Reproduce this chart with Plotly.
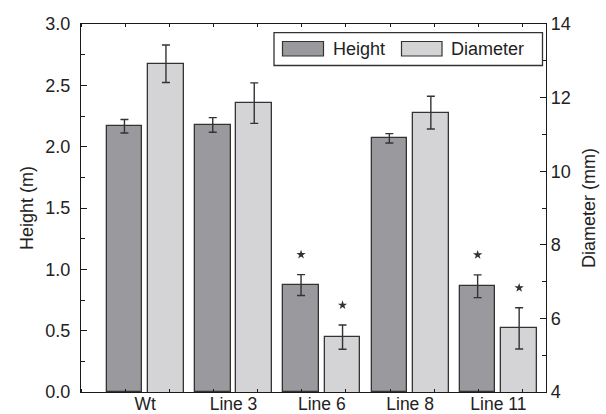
import plotly.graph_objects as go

categories = ["Wt", "Line 3", "Line 6", "Line 8", "Line 11"]
height_m = [2.166, 2.177, 0.872, 2.068, 0.862]
height_err = [0.055, 0.06, 0.085, 0.038, 0.093]
diameter_mm = [12.92, 11.85, 5.49, 11.59, 5.73]
diameter_err = [0.51, 0.55, 0.33, 0.445, 0.56]
significant = [False, False, True, False, True]

FONT = "Liberation Sans, Arial, sans-serif"
FS = 18
DARK = "#9a9a9e"
LIGHT = "#d4d4d6"
EDGE = "#333333"
AX = "#1a1a1a"

idx = list(range(len(categories)))
off = 0.235
bw = 0.403

# plot area in pixels (for paper conversions)
W, H = 606, 414
L, R, T, B = 81, 546, 24, 392

fig = go.Figure()
fig.add_trace(go.Bar(
    x=[i - off for i in idx], y=height_m, width=bw, name="Height",
    marker=dict(color=DARK, line=dict(color=EDGE, width=1.3)),
    error_y=dict(type="data", array=height_err, color=EDGE, thickness=1.4, width=4),
    showlegend=False, yaxis="y"))
fig.add_trace(go.Bar(
    x=[i + off for i in idx], y=diameter_mm, width=bw, name="Diameter",
    marker=dict(color=LIGHT, line=dict(color=EDGE, width=1.3)),
    error_y=dict(type="data", array=diameter_err, color=EDGE, thickness=1.4, width=4),
    showlegend=False, yaxis="y2"))

# significance stars (about 20 px above the error bar top)
hx = [i - off for i, s in zip(idx, significant) if s]
hy = [v + e + 0.163 for v, e, s in zip(height_m, height_err, significant) if s]
dx = [i + off for i, s in zip(idx, significant) if s]
dy = [v + e + 0.54 for v, e, s in zip(diameter_mm, diameter_err, significant) if s]
fig.add_trace(go.Scatter(x=hx, y=hy, mode="markers", yaxis="y", showlegend=False,
                         marker=dict(symbol="star", size=7, color="#333333")))
fig.add_trace(go.Scatter(x=dx, y=dy, mode="markers", yaxis="y2", showlegend=False,
                         marker=dict(symbol="star", size=7, color="#333333")))

def px(x):
    return (x - L) / (R - L)

def py(y):
    return (B - y) / (B - T)

shapes = [
    dict(type="rect", xref="paper", yref="paper", x0=px(274), x1=px(542.5), y0=py(65.5), y1=py(32.7),
         line=dict(color="#333333", width=1.3), fillcolor="white", layer="above"),
    dict(type="rect", xref="paper", yref="paper", x0=px(282.5), x1=px(323.5), y0=py(56), y1=py(41.5),
         line=dict(color="#333333", width=1.2), fillcolor=DARK, layer="above"),
    dict(type="rect", xref="paper", yref="paper", x0=px(401.5), x1=px(442), y0=py(56), y1=py(41.5),
         line=dict(color="#333333", width=1.2), fillcolor=LIGHT, layer="above"),
]
annotations = [
    dict(xref="paper", yref="paper", x=px(331), y=py(49), text="Height", showarrow=False,
         xanchor="left", yanchor="middle", font=dict(family=FONT, size=FS, color="#222")),
    dict(xref="paper", yref="paper", x=px(448.5), y=py(49), text="Diameter", showarrow=False,
         xanchor="left", yanchor="middle", font=dict(family=FONT, size=FS, color="#222")),
]

fig.update_layout(
    width=W, height=H,
    margin=dict(l=L, r=W - R, t=T, b=H - B),
    plot_bgcolor="white", paper_bgcolor="white",
    font=dict(family=FONT, size=FS, color="#222"),
    bargap=0, showlegend=False,
    shapes=shapes, annotations=annotations,
    xaxis=dict(range=[-0.727, 4.539], tickmode="array", tickvals=idx, ticktext=categories,
               ticks="", showline=True, linecolor=AX, linewidth=1.3, mirror="allticks",
               showgrid=False, zeroline=False, automargin=False, ticklabelstandoff=-4,
               minor=dict(ticks="inside", tick0=0.273, dtick=0.5, ticklen=3, tickcolor=AX,
                          showgrid=False),
               tickfont=dict(size=17.5)),
    yaxis=dict(range=[0, 3], dtick=0.5, tickformat=".1f", ticks="inside", ticklen=6,
               tickcolor=AX, showline=True, linecolor=AX, linewidth=1.3, showgrid=False,
               zeroline=False, ticklabelstandoff=6, automargin=False,
               minor=dict(ticks="inside", dtick=0.25, ticklen=4, tickcolor=AX, showgrid=False),
               title=dict(text="Height (m)", font=dict(size=FS), standoff=6)),
    yaxis2=dict(range=[4, 14], dtick=2, ticks="inside", ticklen=6, tickcolor=AX,
                overlaying="y", side="right", anchor="x", automargin=False,
                showline=True, linecolor=AX, linewidth=1.3, showgrid=False, zeroline=False,
                minor=dict(ticks="inside", dtick=1, ticklen=4, tickcolor=AX, showgrid=False),
                title=dict(text="Diameter (mm)", font=dict(size=FS), standoff=12)),
)

fig.write_html("out.html")
